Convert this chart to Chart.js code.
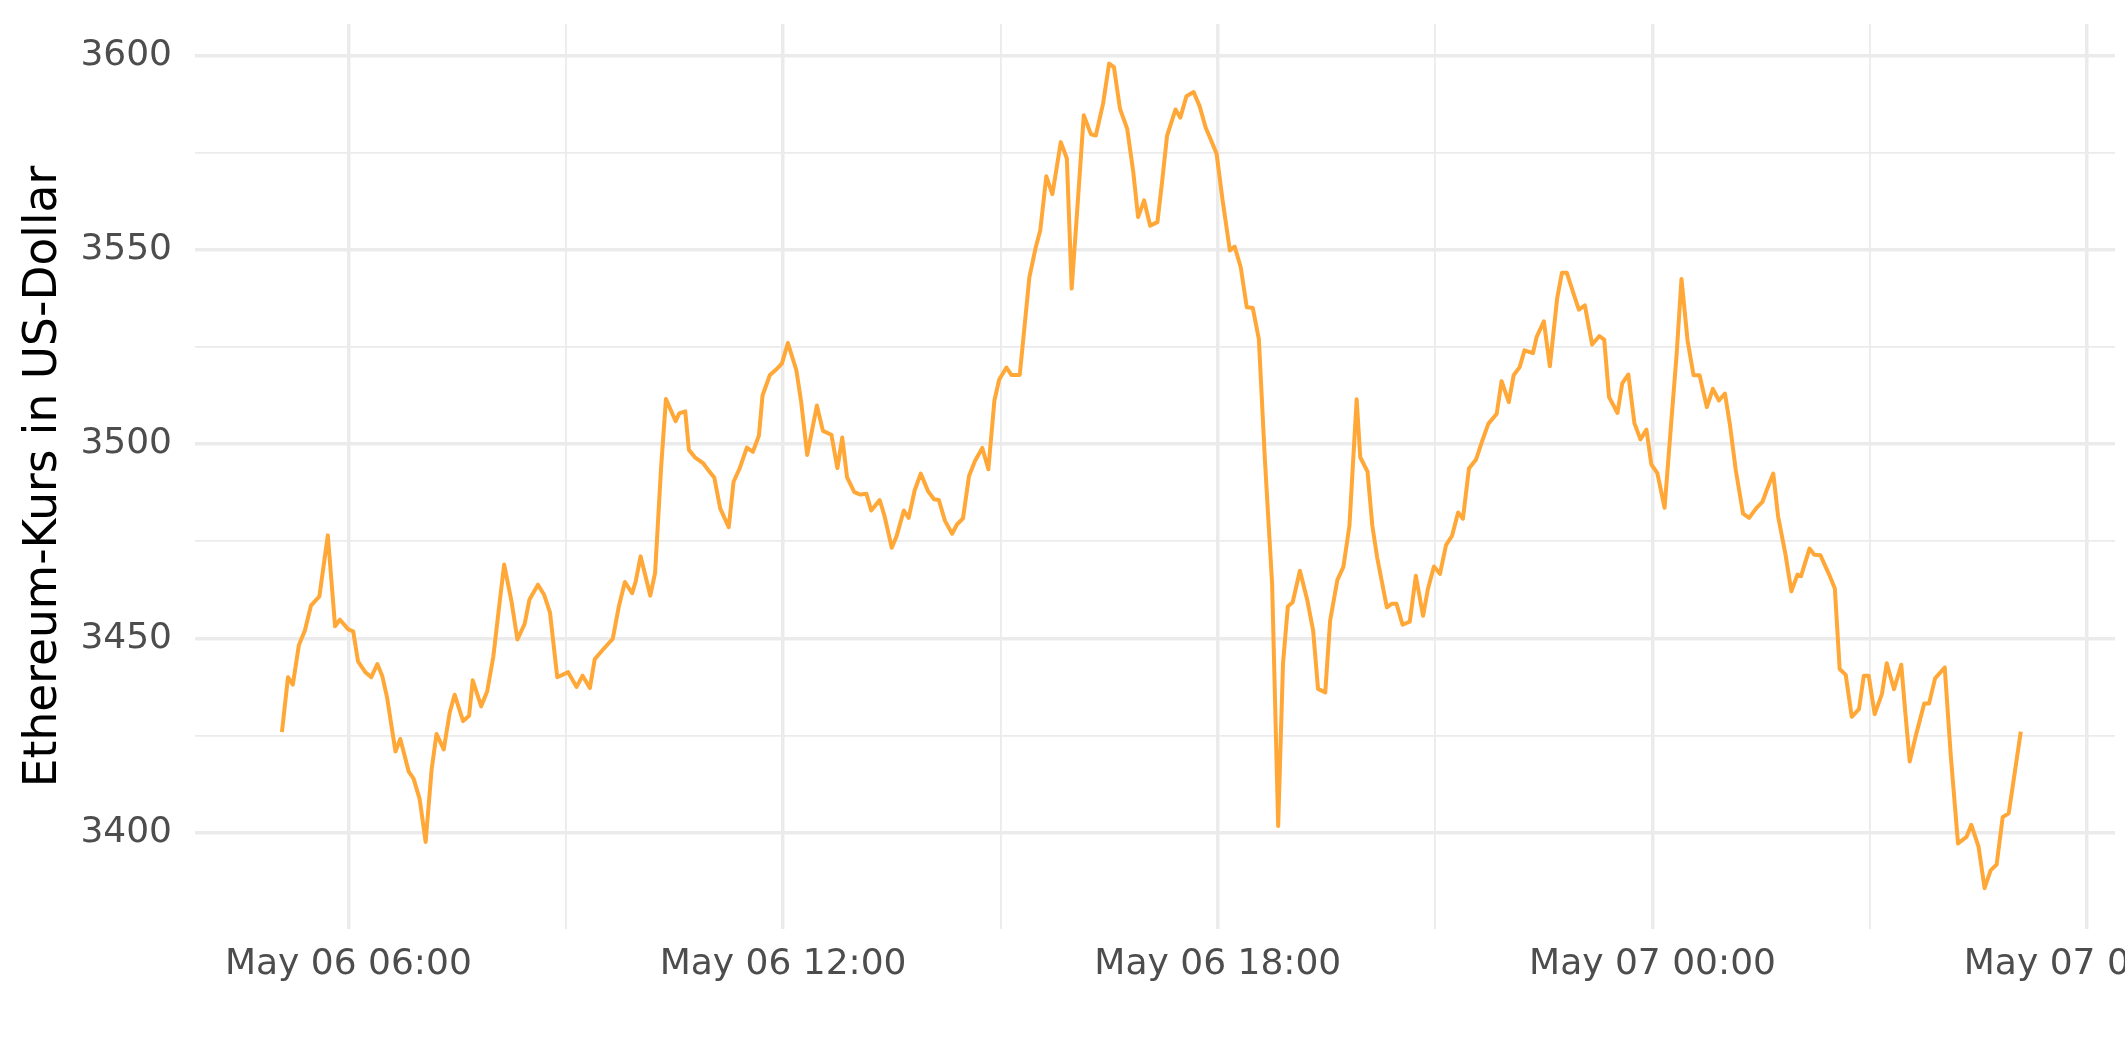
<!DOCTYPE html>
<html>
<head>
<meta charset="utf-8">
<script src="https://cdn.jsdelivr.net/npm/chart.js@4/dist/chart.umd.min.js"></script>
<style>
     html, body { margin: 0; padding: 0; background: #ffffff; overflow: hidden; }
     #myChart { display: block; }
</style>
</head>
<body>
<canvas id="myChart" width="2125" height="1062"></canvas>
<script>
// minutes after May 06 00:00 (5 min data) and the price in USD
var minutes = [
     305, 310, 314, 319, 324, 329, 336, 343, 349, 353, 360, 364, 368, 374, 379, 384, 388, 392, 399, 403,
     410, 414, 419, 424, 429, 433, 439, 444, 448, 455, 460, 463, 470, 475, 480, 484, 489, 495, 500, 506,
     510, 517, 522, 527, 533, 542, 549, 554, 560, 564, 570, 579, 584, 589, 595, 598, 602, 610, 614, 619,
     623, 631, 634, 639, 642, 647, 654, 659, 663, 668, 675, 679, 684, 690, 695, 700, 703, 709, 714, 719,
     724, 731, 735, 740, 748, 753, 760, 765, 769, 773, 779, 784, 789, 793, 800, 804, 810, 814, 820, 824,
     829, 834, 840, 845, 849, 854, 860, 864, 869, 874, 879, 885, 890, 895, 899, 905, 909, 916, 924, 929,
     933, 938, 943, 950, 955, 959, 964, 969, 975, 979, 985, 990, 994, 999, 1005, 1010, 1014, 1019, 1024, 1030,
     1034, 1038, 1045, 1049, 1054, 1060, 1065, 1070, 1074, 1079, 1084, 1090, 1094, 1099, 1104, 1109, 1114, 1119, 1125, 1130,
     1134, 1138, 1142, 1148, 1154, 1159, 1163, 1169, 1173, 1179, 1184, 1189, 1195, 1198, 1204, 1208, 1212, 1220, 1224, 1228,
     1233, 1239, 1244, 1250, 1254, 1259, 1264, 1269, 1274, 1279, 1283, 1288, 1294, 1299, 1304, 1311, 1315, 1321, 1325, 1330,
     1334, 1341, 1344, 1350, 1355, 1361, 1365, 1369, 1375, 1379, 1384, 1390, 1396, 1400, 1404, 1411, 1415, 1420, 1425, 1430,
     1435, 1439, 1444, 1450, 1455, 1460, 1464, 1469, 1474, 1479, 1485, 1490, 1495, 1500, 1504, 1509, 1515, 1520, 1526, 1531,
     1535, 1540, 1544, 1550, 1555, 1560, 1563, 1570, 1574, 1579, 1586, 1591, 1595, 1600, 1605, 1611, 1615, 1619, 1624, 1630,
     1634, 1640, 1646, 1649, 1653, 1658, 1665, 1669, 1674, 1682, 1687, 1693, 1700, 1704, 1710, 1715, 1720, 1725, 1730, 1735,
     1740, 1745
];
var prices = [
     3425.9, 3440.0, 3438.1, 3448.2, 3452.0, 3458.4, 3460.8, 3476.5, 3453.1, 3454.8, 3452.3, 3451.8, 3444.1, 3441.3, 3440.0, 3443.4, 3440.4, 3434.9, 3420.9, 3424.1,
     3415.7, 3413.9, 3408.7, 3397.6, 3416.4, 3425.4, 3421.4, 3431.0, 3435.5, 3428.7, 3430.1, 3439.2, 3432.5, 3436.4, 3445.2, 3455.9, 3469.0, 3459.7, 3449.7, 3453.7,
     3460.0, 3463.8, 3461.3, 3456.6, 3440.0, 3441.3, 3437.5, 3440.4, 3437.2, 3444.6, 3446.8, 3449.9, 3458.2, 3464.5, 3461.6, 3464.7, 3471.1, 3461.0, 3466.8, 3494.0,
     3511.6, 3505.9, 3507.9, 3508.4, 3498.5, 3496.6, 3495.0, 3492.9, 3491.4, 3483.4, 3478.6, 3490.3, 3493.7, 3499.1, 3498.0, 3502.2, 3512.5, 3517.7, 3519.1, 3520.7,
     3526.0, 3519.0, 3510.8, 3497.2, 3509.9, 3503.4, 3502.4, 3493.8, 3501.7, 3491.4, 3487.6, 3487.0, 3487.2, 3482.9, 3485.6, 3481.5, 3473.3, 3476.3, 3482.9, 3481.0,
     3488.1, 3492.4, 3487.9, 3485.8, 3485.6, 3480.3, 3476.9, 3479.3, 3480.9, 3491.8, 3495.7, 3499.0, 3493.5, 3511.2, 3516.6, 3519.7, 3517.8, 3517.8, 3543.0, 3550.3,
     3555.0, 3568.9, 3564.3, 3577.7, 3573.5, 3540.0, 3562.0, 3584.6, 3579.7, 3579.4, 3587.6, 3597.9, 3597.0, 3586.3, 3581.1, 3570.0, 3558.4, 3562.7, 3556.2, 3557.1,
     3567.8, 3579.4, 3586.1, 3584.0, 3589.5, 3590.6, 3586.9, 3581.4, 3578.5, 3574.7, 3562.7, 3549.8, 3550.8, 3545.5, 3535.2, 3535.0, 3527.0, 3496.0, 3464.0, 3401.7,
     3443.5, 3458.2, 3459.3, 3467.4, 3460.0, 3451.9, 3437.0, 3436.1, 3454.5, 3465.0, 3468.4, 3478.9, 3511.5, 3496.6, 3492.9, 3478.9, 3470.8, 3458.0, 3458.9, 3458.9,
     3453.5, 3454.3, 3466.1, 3455.8, 3462.7, 3468.5, 3466.6, 3474.0, 3476.4, 3482.4, 3480.8, 3493.7, 3496.1, 3500.8, 3505.2, 3507.8, 3516.2, 3510.8, 3517.7, 3519.8,
     3524.1, 3523.4, 3527.5, 3531.6, 3520.0, 3537.4, 3544.1, 3544.1, 3538.3, 3534.6, 3535.7, 3525.6, 3527.8, 3526.9, 3512.1, 3508.0, 3515.7, 3517.9, 3505.4, 3501.2,
     3503.7, 3494.8, 3492.5, 3483.6, 3503.5, 3523.2, 3542.5, 3526.7, 3517.7, 3517.7, 3509.5, 3514.2, 3511.2, 3513.0, 3505.2, 3493.2, 3482.1, 3481.0, 3483.5, 3485.1,
     3488.5, 3492.4, 3481.4, 3471.8, 3462.1, 3466.4, 3466.0, 3473.1, 3471.5, 3471.4, 3466.6, 3462.8, 3442.1, 3440.6, 3429.8, 3431.8, 3440.4, 3440.4, 3430.5, 3435.7,
     3443.6, 3436.9, 3443.2, 3432.2, 3418.3, 3424.9, 3433.2, 3433.2, 3439.7, 3442.5, 3419.8, 3397.2, 3398.9, 3402.0, 3396.4, 3385.7, 3390.3, 3391.8, 3404.0, 3405.0,
     3415.5, 3426.0
];

// axis ticks: grid every 3 h / 25 USD, labels only on the major ones
var xTicks = [360, 540, 720, 900, 1080, 1260, 1440, 1620, 1800];
var xTickLabels = { 360: 'May 06 06:00', 720: 'May 06 12:00', 1080: 'May 06 18:00', 1440: 'May 07 00:00', 1800: 'May 07 06:00' };
var yTicks = [3400, 3425, 3450, 3475, 3500, 3525, 3550, 3575, 3600];
var yTickLabels = { 3400: '3400', 3450: '3450', 3500: '3500', 3550: '3550', 3600: '3600' };

function chart() {
     var points = [];
     for (var i = 0; i < minutes.length; i++) {
          points.push({ x: minutes[i], y: prices[i] });
     }
     Chart.defaults.font.family = "'DejaVu Sans', sans-serif";

     new Chart("myChart", {
          type: "line",
          data: {
               datasets: [{
                    data: points,
                    fill: false,
                    tension: 0,
                    borderColor: "rgb(255,167,55)",
                    borderWidth: 4,
                    borderJoinStyle: "round",
                    borderCapStyle: "butt",
                    pointRadius: 0
               }]
          },
          options: {
               responsive: false,
               animation: false,
               devicePixelRatio: 1,
               layout: { padding: { left: 0, right: 10, top: 24, bottom: 0 } },
               plugins: { legend: { display: false }, tooltip: { enabled: false } },
               scales: {
                    x: {
                         type: "linear",
                         min: 233,
                         max: 1823,
                         afterBuildTicks: function (scale) {
                              scale.ticks = xTicks.map(function (v) { return { value: v }; });
                         },
                         afterFit: function (scale) {
                              scale.height = 133;
                              scale.paddingLeft = 0;
                              scale.paddingRight = 0;
                         },
                         ticks: {
                              autoSkip: false,
                              maxRotation: 0,
                              minRotation: 0,
                              padding: 14,
                              color: "#4d4d4d",
                              font: { size: 36 },
                              callback: function (value) { return xTickLabels[value] || ''; }
                         },
                         grid: {
                              color: "#ebebeb",
                              lineWidth: function (ctx) { return xTickLabels[ctx.tick.value] ? 3.5 : 1.8; },
                              drawTicks: false
                         },
                         border: { display: false }
                    },
                    y: {
                         min: 3375.2,
                         max: 3608.1,
                         afterBuildTicks: function (scale) {
                              scale.ticks = yTicks.map(function (v) { return { value: v }; });
                         },
                         afterFit: function (scale) {
                              scale.width = 195;
                              scale.paddingTop = 0;
                              scale.paddingBottom = 0;
                         },
                         ticks: {
                              padding: 23,
                              color: "#4d4d4d",
                              font: { size: 36 },
                              callback: function (value) { return yTickLabels[value] || ''; }
                         },
                         grid: {
                              color: "#ebebeb",
                              lineWidth: function (ctx) { return yTickLabels[ctx.tick.value] ? 3.5 : 1.8; },
                              drawTicks: false
                         },
                         border: { display: false },
                         title: {
                              display: true,
                              text: "Ethereum-Kurs in US-Dollar",
                              color: "#000000",
                              font: { size: 45.5 },
                              padding: { top: 17, bottom: 0 }
                         }
                    }
               }
          }
     });
}

chart();
</script>
</body>
</html>
